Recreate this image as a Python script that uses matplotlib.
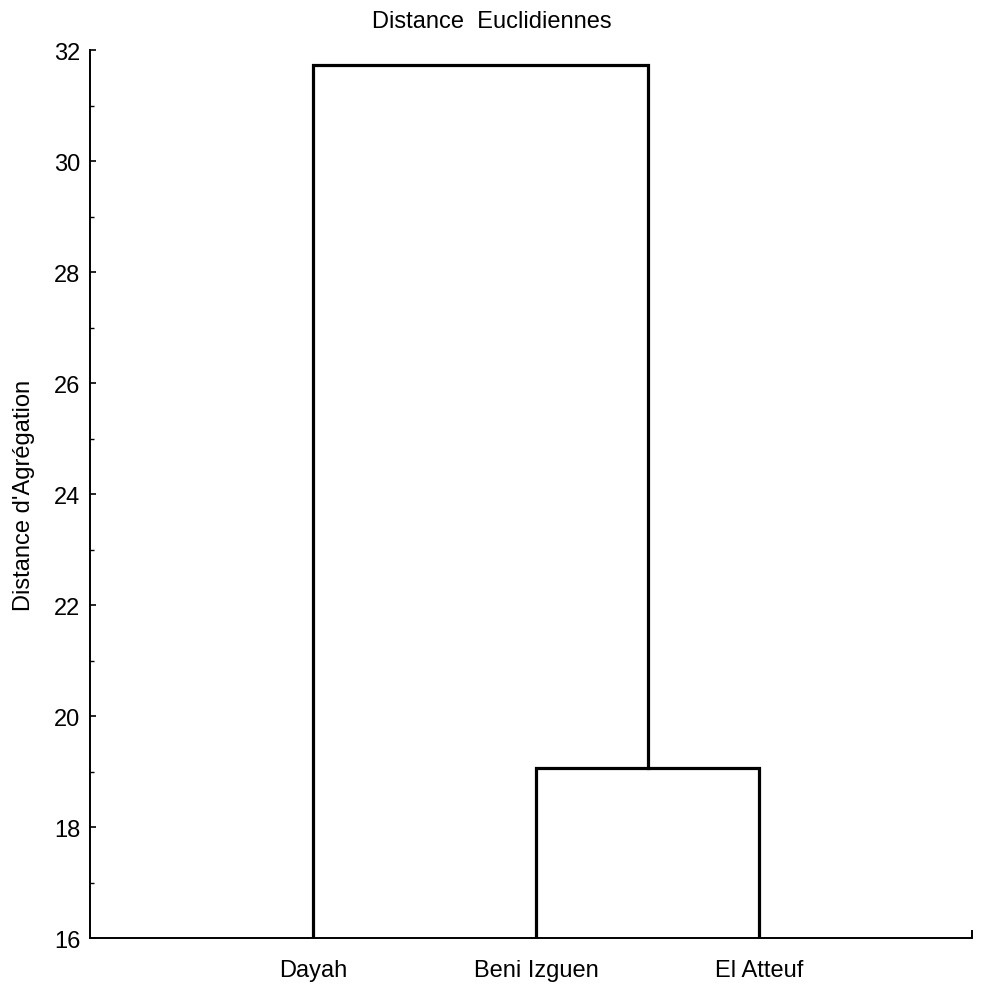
import matplotlib
matplotlib.use("Agg")
import matplotlib.pyplot as plt
from matplotlib.ticker import MultipleLocator

plt.rcParams['font.family'] = ['Liberation Sans', 'DejaVu Sans']

# Leaves (left to right) and linkage heights
leaves = ["Dayah", "Beni Izguen", "El Atteuf"]
leaf_pos = [1, 2, 3]
merge_low = 19.07    # Beni Izguen + El Atteuf
merge_high = 31.73   # Dayah + (Beni Izguen, El Atteuf)

y_min, y_max = 16, 32
x_min, x_max = 0, 3.955

fs = 17

fig = plt.figure(figsize=(9.83, 9.87), dpi=100)
ax = fig.add_axes([0.0916, 0.0486, 0.8972, 0.8997])

lw = 2.3
kw = dict(color="black", lw=lw, solid_capstyle="projecting", solid_joinstyle="miter")

# lower cluster
mid_low = (leaf_pos[1] + leaf_pos[2]) / 2
ax.plot([leaf_pos[1], leaf_pos[1], leaf_pos[2], leaf_pos[2]],
        [y_min, merge_low, merge_low, y_min], **kw)
# upper cluster
ax.plot([leaf_pos[0], leaf_pos[0], mid_low, mid_low],
        [y_min, merge_high, merge_high, merge_low], **kw)

ax.set_xlim(x_min, x_max)
ax.set_ylim(y_min, y_max)

ax.spines['top'].set_visible(False)
ax.spines['right'].set_visible(False)
ax.spines['left'].set_linewidth(1.4)
ax.spines['bottom'].set_linewidth(1.4)

ax.set_yticks(range(16, 33, 2))
ax.yaxis.set_minor_locator(MultipleLocator(1))
ax.tick_params(axis='y', which='major', direction='in', length=4, width=1.2,
               labelsize=fs, pad=7)
ax.tick_params(axis='y', which='minor', direction='in', length=3, width=1.0)

ax.set_xticks(leaf_pos + [x_max])
ax.set_xticklabels(leaves + [""])
ax.tick_params(axis='x', which='major', direction='in', length=6, width=1.4,
               labelsize=fs, pad=15)

ax.set_ylabel("Distance d'Agrégation", fontsize=fs, labelpad=14)
fig.text(0.5, 0.9777, "Distance  Euclidiennes", ha='center', va='center', fontsize=fs)

fig.savefig("out.png", dpi=100)
